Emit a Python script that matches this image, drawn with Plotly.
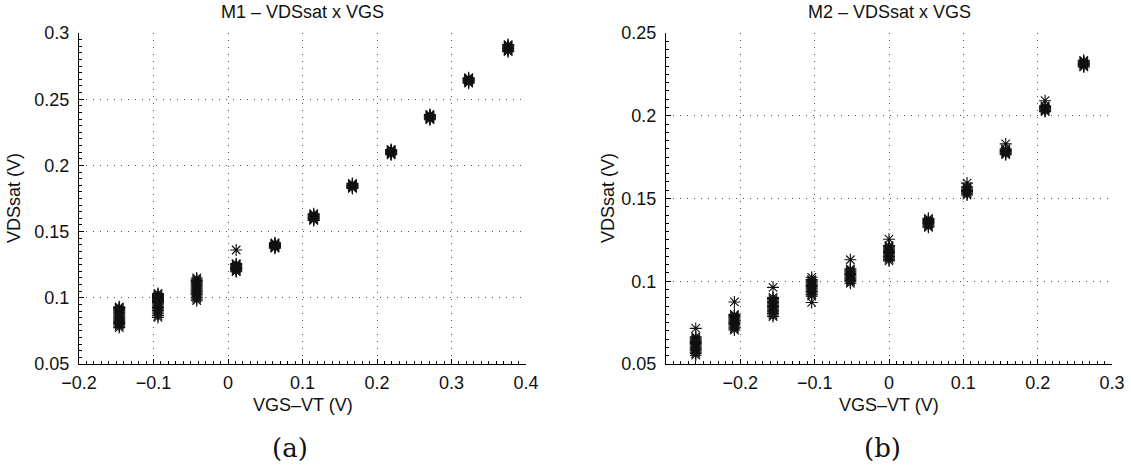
import plotly.graph_objects as go

# ---------------- data ----------------
m1_vgs_vt = [-0.146, -0.094, -0.042, 0.011, 0.063, 0.115, 0.167, 0.219, 0.271, 0.323, 0.376]
m1_vdssat = [
    [0.0932, 0.0926, 0.0920, 0.0914, 0.0907, 0.0900, 0.0893, 0.0886, 0.0878, 0.0870,
     0.0862, 0.0854, 0.0846, 0.0838, 0.0830, 0.0822, 0.0814, 0.0805, 0.0796, 0.0786, 0.0775],
    [0.1033, 0.1026, 0.1018, 0.1010, 0.1003, 0.0996, 0.0988, 0.0980, 0.0972, 0.0964,
     0.0955, 0.0946, 0.0936, 0.0926, 0.0916, 0.0905, 0.0893, 0.0880, 0.0866, 0.0852],
    [0.1150, 0.1140, 0.1130, 0.1122, 0.1114, 0.1106, 0.1098, 0.1090, 0.1082, 0.1074,
     0.1066, 0.1058, 0.1050, 0.1042, 0.1034, 0.1025, 0.1014, 0.1002, 0.0990, 0.0978],
    [0.1361, 0.1258, 0.1252, 0.1246, 0.1240, 0.1235, 0.1230, 0.1225, 0.1220, 0.1214,
     0.1208, 0.1202, 0.1197],
    [0.1415, 0.1411, 0.1407, 0.1403, 0.1399, 0.1395, 0.1391, 0.1387, 0.1383, 0.1379, 0.1375],
    [0.1635, 0.1629, 0.1623, 0.1617, 0.1611, 0.1605, 0.1599, 0.1593, 0.1588, 0.1584],
    [0.1864, 0.1859, 0.1854, 0.1849, 0.1844, 0.1839, 0.1834, 0.1830, 0.1826],
    [0.2120, 0.2115, 0.2110, 0.2105, 0.2100, 0.2095, 0.2090, 0.2085, 0.2080],
    [0.2385, 0.2380, 0.2375, 0.2370, 0.2365, 0.2360, 0.2355, 0.2350, 0.2345],
    [0.2662, 0.2657, 0.2652, 0.2647, 0.2642, 0.2637, 0.2632, 0.2627, 0.2621],
    [0.2913, 0.2907, 0.2901, 0.2895, 0.2889, 0.2883, 0.2877, 0.2871, 0.2865, 0.2859],
]

m2_vgs_vt = [-0.260, -0.208, -0.156, -0.104, -0.052, 0.000, 0.053, 0.105, 0.157, 0.210, 0.262]
m2_vdssat = [
    [0.0715, 0.0665, 0.0658, 0.0651, 0.0644, 0.0637, 0.0630, 0.0623, 0.0616, 0.0609,
     0.0602, 0.0595, 0.0588, 0.0580, 0.0572, 0.0563, 0.0553],
    [0.0875, 0.0800, 0.0793, 0.0786, 0.0779, 0.0772, 0.0765, 0.0758, 0.0751, 0.0744,
     0.0737, 0.0730, 0.0722, 0.0713, 0.0705],
    [0.0963, 0.0902, 0.0895, 0.0888, 0.0880, 0.0872, 0.0864, 0.0856, 0.0848, 0.0840,
     0.0832, 0.0824, 0.0815, 0.0806, 0.0796, 0.0787],
    [0.1024, 0.1010, 0.1003, 0.0996, 0.0989, 0.0982, 0.0975, 0.0968, 0.0961, 0.0954,
     0.0946, 0.0938, 0.0930, 0.0920, 0.0910, 0.0872],
    [0.1130, 0.1075, 0.1068, 0.1061, 0.1054, 0.1047, 0.1040, 0.1033, 0.1026, 0.1019,
     0.1012, 0.1005, 0.0997, 0.0988],
    [0.1254, 0.1215, 0.1208, 0.1201, 0.1194, 0.1187, 0.1180, 0.1173, 0.1166, 0.1158,
     0.1150, 0.1141, 0.1132, 0.1123],
    [0.1380, 0.1374, 0.1368, 0.1362, 0.1356, 0.1350, 0.1344, 0.1338, 0.1332, 0.1326],
    [0.1593, 0.1570, 0.1563, 0.1556, 0.1549, 0.1542, 0.1535, 0.1528, 0.1521],
    [0.1830, 0.1800, 0.1795, 0.1790, 0.1785, 0.1780, 0.1775, 0.1770, 0.1765],
    [0.2091, 0.2060, 0.2055, 0.2050, 0.2045, 0.2040, 0.2035, 0.2030, 0.2025],
    [0.2335, 0.2330, 0.2325, 0.2320, 0.2315, 0.2310, 0.2305, 0.2300, 0.2295],
]

m1_xticks = [-0.2, -0.1, 0, 0.1, 0.2, 0.3, 0.4]
m1_xtext = ["\u22120.2", "\u22120.1", "0", "0.1", "0.2", "0.3", "0.4"]
m1_yticks = [0.05, 0.1, 0.15, 0.2, 0.25, 0.3]
m1_ytext = ["0.05", "0.1", "0.15", "0.2", "0.25", "0.3"]
m2_xticks = [-0.2, -0.1, 0, 0.1, 0.2, 0.3]
m2_xtext = ["\u22120.2", "\u22120.1", "0", "0.1", "0.2", "0.3"]
m2_yticks = [0.05, 0.1, 0.15, 0.2, 0.25]
m2_ytext = ["0.05", "0.1", "0.15", "0.2", "0.25"]

titles = ["M1 \u2013 VDSsat x VGS", "M2 \u2013 VDSsat x VGS"]
xlabel = "VGS\u2013VT (V)"
ylabel = "VDSsat (V)"
sublabels = ["(a)", "(b)"]

# ---------------- figure ----------------
W, H = 1131, 468
FONT = "Liberation Sans"
FS = 18


def expand(xs, ys):
    X, Y = [], []
    for xv, col in zip(xs, ys):
        for yv in col:
            X.append(xv)
            Y.append(yv)
    return X, Y


fig = go.Figure()
marker = dict(symbol="asterisk-open", size=10, color="#111",
              line=dict(color="#111", width=1.1))

x1, y1 = expand(m1_vgs_vt, m1_vdssat)
x2, y2 = expand(m2_vgs_vt, m2_vdssat)
fig.add_trace(go.Scatter(x=x1, y=y1, mode="markers", marker=marker,
                         xaxis="x", yaxis="y", showlegend=False))
fig.add_trace(go.Scatter(x=x2, y=y2, mode="markers", marker=marker,
                         xaxis="x2", yaxis="y2", showlegend=False))

ytop, ybot = 1 - 33 / H, 1 - 364 / H
d1 = [79 / W, 526 / W]
d2 = [666 / W, 1112 / W]

common = dict(showline=True, linecolor="black", linewidth=1, mirror=False,
              ticks="inside", ticklen=5, tickcolor="black", tickwidth=1,
              showgrid=True, gridcolor="#555", gridwidth=1, griddash="1px,6px",
              zeroline=False, automargin=False,
              tickfont=dict(family=FONT, size=FS, color="#111"),
              layer="below traces")


def minor(dt):
    return dict(dtick=dt, tick0=0, ticks="inside", ticklen=3,
                tickcolor="black", showgrid=False)


fig.update_layout(
    template="none",
    width=W, height=H, margin=dict(l=0, r=0, t=0, b=0, pad=0, autoexpand=False),
    paper_bgcolor="white", plot_bgcolor="white", showlegend=False,
    xaxis=dict(domain=d1, range=[-0.2, 0.4], tickvals=m1_xticks, ticktext=m1_xtext,
               anchor="y", ticklabelstandoff=2, minor=minor(0.01), **common),
    yaxis=dict(domain=[ybot, ytop], range=[0.05, 0.3], tickvals=m1_yticks, ticktext=m1_ytext,
               anchor="x", ticklabelstandoff=5, minor=minor(0.005), **common),
    xaxis2=dict(domain=d2, range=[-0.3, 0.3], tickvals=m2_xticks, ticktext=m2_xtext,
                anchor="y2", ticklabelstandoff=2, minor=minor(0.01), **common),
    yaxis2=dict(domain=[ybot, ytop], range=[0.05, 0.25], tickvals=m2_yticks, ticktext=m2_ytext,
                anchor="x2", ticklabelstandoff=5, minor=minor(0.005), **common),
)

ann = []
centers = [(d1[0] + d1[1]) / 2, (d2[0] + d2[1]) / 2]
for i, c in enumerate(centers):
    ann.append(dict(text=titles[i], x=c, y=1 - 12 / H, xref="paper", yref="paper",
                    xanchor="center", yanchor="middle", showarrow=False,
                    font=dict(family=FONT, size=FS, color="#111")))
    ann.append(dict(text=xlabel, x=c, y=1 - 405 / H, xref="paper", yref="paper",
                    xanchor="center", yanchor="middle", showarrow=False,
                    font=dict(family=FONT, size=FS, color="#111")))
for xp in (14, 608):
    ann.append(dict(text=ylabel, x=xp / W, y=1 - 198 / H, xref="paper", yref="paper",
                    xanchor="center", yanchor="middle", showarrow=False, textangle=-90,
                    font=dict(family=FONT, size=FS, color="#111")))
ann.append(dict(text=sublabels[0], x=290 / W, y=1 - 448 / H, xref="paper", yref="paper",
                xanchor="center", yanchor="middle", showarrow=False,
                font=dict(family="DejaVu Serif", size=26, color="#111")))
ann.append(dict(text=sublabels[1], x=882 / W, y=1 - 448 / H, xref="paper", yref="paper",
                xanchor="center", yanchor="middle", showarrow=False,
                font=dict(family="DejaVu Serif", size=26, color="#111")))
fig.update_layout(annotations=ann)

fig.write_html("out.html")
